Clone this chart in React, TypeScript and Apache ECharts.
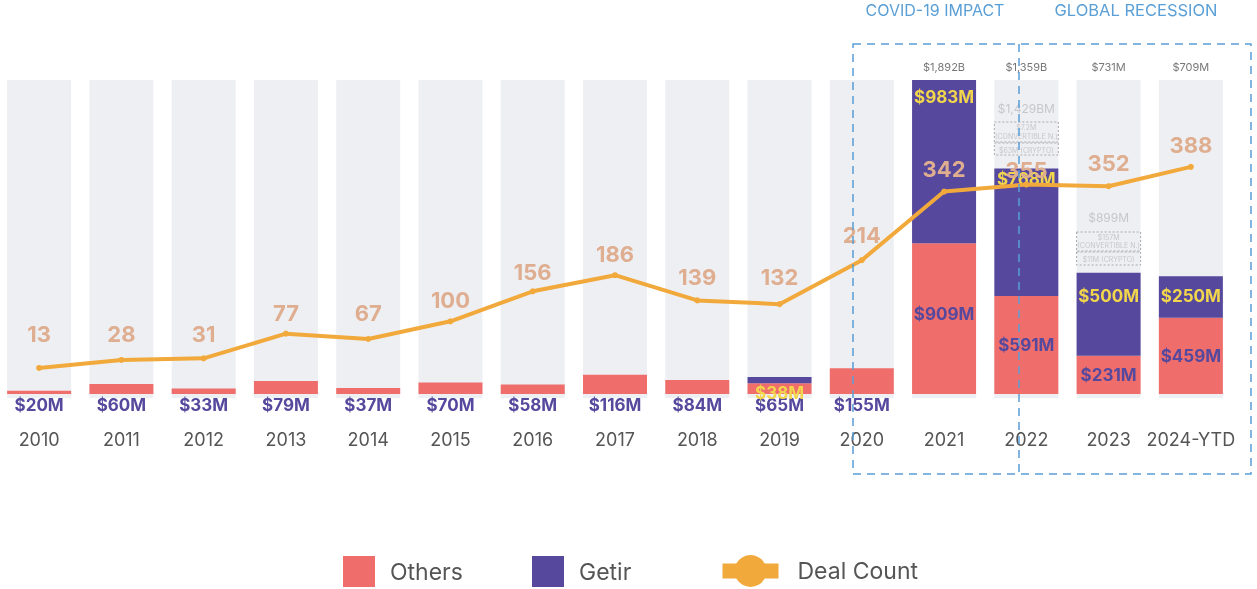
import React, { useEffect, useRef } from 'react';
import * as echarts from 'echarts';

const years = ['2010', '2011', '2012', '2013', '2014', '2015', '2016', '2017', '2018', '2019', '2020', '2021', '2022', '2023', '2024-YTD'];
const othersValues = [20, 60, 33, 79, 37, 70, 58, 116, 84, 65, 155, 909, 591, 231, 459];
const getirValues: (number | null)[] = [null, null, null, null, null, null, null, null, null, 38, null, 983, 768, 500, 250];
const dealCount = [13, 28, 31, 77, 67, 100, 156, 186, 139, 132, 214, 342, 355, 352, 388];
const totalLabels = ['', '', '', '', '', '', '', '', '', '', '', '$1,892B', '$1,359B', '$731M', '$709M'];
const ghost2022 = { total: '$1,429BM', conv: '$7.2M', crypto: '$63M (CRYPTO)' };
const ghost2023 = { total: '$899M', conv: '$157M', crypto: '$11M (CRYPTO)' };

// styling (not data)
const dealLabelDist = [20, 12, 10, 7, 12, 7, 5, 7, 9, 13, 11, 9, 1, 9, 8];
const getirLabelDist: Record<number, number> = { 9: 8, 11: 8, 12: 2, 13: 15, 14: 11 };

const FONT = 'Inter, "Noto Sans", sans-serif';
const RED = '#ef6e6b';
const PURPLE = '#55489d';
const ORANGE = '#f2a93b';
const YELLOW = '#f2d64b';
const TAN = '#dfae90';
const BLUE = '#5a9fd6';
const GHOST = '#c6c6cc';

const Y_MAX = 1892;
const OFF = 2; // container is shifted left by this many px

export default function App() {
  const ref = useRef<HTMLDivElement>(null);

  useEffect(() => {
    const chart = echarts.init(ref.current!, null, { renderer: 'svg' });
    const othersData = othersValues.map((v, i) => ({
      value: v,
      label: i <= 10
        ? { show: true, position: 'bottom', distance: 2 }
        : { show: true, position: 'inside', offset: i === 11 ? [0, -5] : [0, 0] },
    }));
    const getirData = getirValues.map((v, i) =>
      v == null ? null : { value: v, label: { show: true, position: 'insideTop', distance: getirLabelDist[i] ?? 8 } }
    );
    const dealData = dealCount.map((v, i) => ({ value: v, label: { distance: dealLabelDist[i] } }));
    const totalData = totalLabels.map((t) => (t ? Y_MAX : null));

    const legendBase = {
      orient: 'horizontal',
      padding: 0,
      textStyle: { fontSize: 23, color: '#555', fontFamily: FONT, padding: [0, 0, 0, 10] },
      selectedMode: false,
    };

    chart.setOption({
      animation: false,
      textStyle: { fontFamily: FONT },
      grid: { left: 0, right: 25, top: 80, bottom: 191, containLabel: false },
      xAxis: {
        type: 'category',
        data: years,
        axisLine: { show: false },
        axisTick: { show: false },
        axisLabel: { interval: 0, margin: 32, fontSize: 18, color: '#555', fontFamily: FONT },
      },
      yAxis: [
        { type: 'value', min: -24, max: Y_MAX, show: false },
        { type: 'value', min: -43, max: 550, show: false },
      ],
      legend: [
        { ...legendBase, left: 343 + OFF, top: 556, itemWidth: 32, itemHeight: 31, data: [{ name: 'Others', icon: 'rect' }] },
        { ...legendBase, left: 532 + OFF, top: 556, itemWidth: 32, itemHeight: 31, data: [{ name: 'Getir', icon: 'rect' }] },
        {
          ...legendBase, left: 715 + OFF, top: 555, itemWidth: 56, itemHeight: 40,
          textStyle: { ...legendBase.textStyle, padding: [0, 0, 0, 14] },
          lineStyle: { width: 15, color: ORANGE },
          itemStyle: { color: ORANGE },
          data: ['Deal Count'],
        },
      ],
      series: [
        {
          name: 'Others',
          type: 'bar',
          stack: 'amt',
          barWidth: 64,
          showBackground: true,
          backgroundStyle: { color: '#eeeff3' },
          itemStyle: { color: RED },
          label: {
            show: true,
            color: PURPLE,
            fontWeight: 'bold',
            fontSize: 17,
            fontFamily: FONT,
            formatter: (p: any) => `$${p.value}M`,
          },
          data: othersData,
          z: 2,
        },
        {
          name: 'Getir',
          type: 'bar',
          stack: 'amt',
          barWidth: 64,
          itemStyle: { color: PURPLE },
          label: {
            show: true,
            color: YELLOW,
            fontWeight: 'bold',
            fontSize: 17,
            fontFamily: FONT,
            formatter: (p: any) => `$${p.value}M`,
          },
          data: getirData,
          z: 3,
        },
        {
          name: 'Total',
          type: 'scatter',
          symbolSize: 0,
          data: totalData,
          label: {
            show: true,
            position: 'top',
            distance: 8,
            fontSize: 11,
            color: '#555',
            fontFamily: FONT,
            formatter: (p: any) => totalLabels[p.dataIndex],
          },
          silent: true,
          z: 4,
        },
        {
          name: 'Deal Count',
          type: 'line',
          yAxisIndex: 1,
          data: dealData,
          symbol: 'circle',
          symbolSize: 6,
          lineStyle: { color: ORANGE, width: 4 },
          itemStyle: { color: ORANGE },
          label: {
            show: true,
            position: 'top',
            color: TAN,
            fontWeight: 'bold',
            fontSize: 22,
            fontFamily: FONT,
          },
          z: 5,
        },
      ],
    });

    const cx22 = chart.convertToPixel({ xAxisIndex: 0 }, '2022') as number;
    const cx23 = chart.convertToPixel({ xAxisIndex: 0 }, '2023') as number;
    const bw = 64;

    const ghost = (cx: number, g: any, yTotal: number, b1: [number, number], b2: [number, number], r1: [number, number], r2: number) => [
      { type: 'text', x: cx, y: yTotal, style: { text: g.total, fill: GHOST, fontSize: 12, fontFamily: FONT, align: 'center', verticalAlign: 'middle' }, z: 10 },
      { type: 'rect', shape: { x: cx - bw / 2, y: b1[0], width: bw, height: b1[1] - b1[0] }, style: { fill: 'none', stroke: '#aaaaae', lineWidth: 1, lineDash: [2, 2] }, z: 10 },
      { type: 'rect', shape: { x: cx - bw / 2, y: b2[0], width: bw, height: b2[1] - b2[0] }, style: { fill: 'none', stroke: '#aaaaae', lineWidth: 1, lineDash: [2, 2] }, z: 10 },
      { type: 'text', x: cx, y: r1[0], style: { text: g.conv, fill: GHOST, fontSize: 7, fontFamily: FONT, align: 'center', verticalAlign: 'middle' }, z: 10 },
      { type: 'text', x: cx, y: r1[1], style: { text: '(CONVERTIBLE N.)', fill: GHOST, fontSize: 7, fontFamily: FONT, align: 'center', verticalAlign: 'middle' }, z: 10 },
      { type: 'text', x: cx, y: r2, style: { text: g.crypto, fill: GHOST, fontSize: 7, fontFamily: FONT, align: 'center', verticalAlign: 'middle' }, z: 10 },
    ];

    chart.setOption({
      graphic: [
        { type: 'text', x: 935 + OFF, y: 10, style: { text: 'COVID-19 IMPACT', fill: BLUE, fontSize: 16, fontFamily: FONT, align: 'center', verticalAlign: 'middle' } },
        { type: 'text', x: 1136 + OFF, y: 10, style: { text: 'GLOBAL RECESSION', fill: BLUE, fontSize: 16.5, fontFamily: FONT, align: 'center', verticalAlign: 'middle' } },
        { type: 'rect', shape: { x: 853 + OFF, y: 44, width: 398, height: 430 }, style: { fill: 'none', stroke: BLUE, lineWidth: 1.5, lineDash: [8, 6] }, z: 20 },
        { type: 'line', shape: { x1: 1019 + OFF, y1: 44, x2: 1019 + OFF, y2: 474 }, style: { stroke: BLUE, lineWidth: 1.5, lineDash: [8, 6] }, z: 20 },
        ...ghost(cx22, ghost2022, 108, [122, 142], [143, 155], [127, 136], 150),
        ...ghost(cx23, ghost2023, 217, [232, 251], [252, 265], [237, 245], 259),
      ],
    });

    return () => chart.dispose();
  }, []);

  return <div ref={ref} style={{ position: 'fixed', left: -OFF, top: 0, width: 1257 + OFF, height: 589 }} />;
}
